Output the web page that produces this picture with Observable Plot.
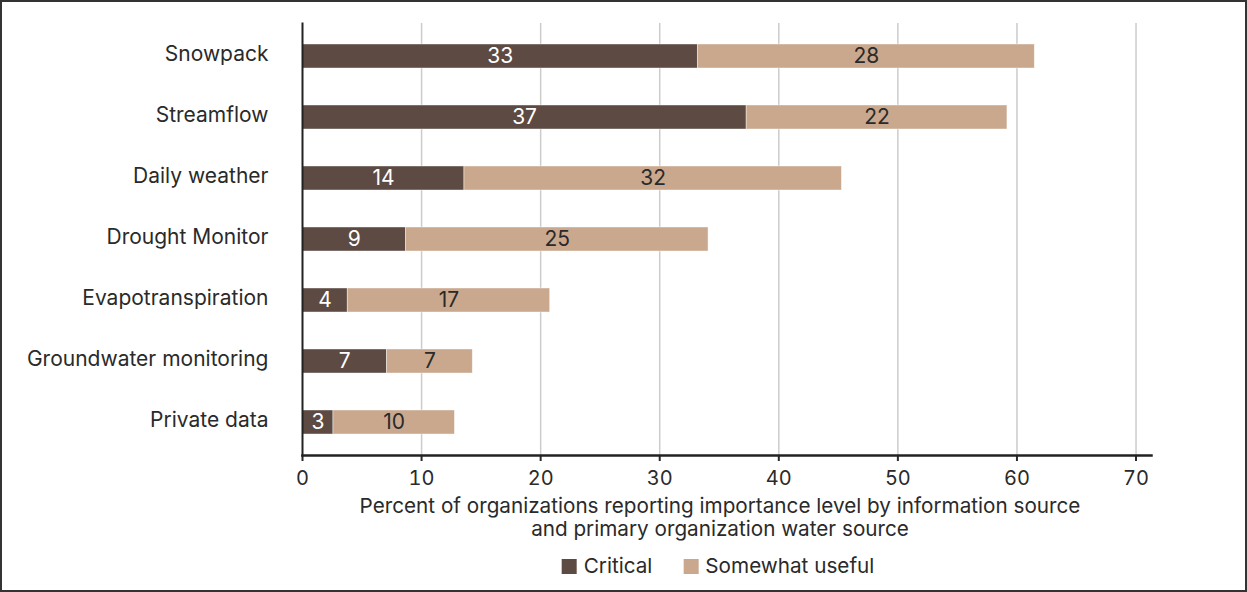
<!DOCTYPE html>
<html>
<head>
<meta charset="utf-8">
<script src="https://cdn.jsdelivr.net/npm/d3@7"></script>
<script src="https://cdn.jsdelivr.net/npm/@observablehq/plot@0.6"></script>
<style>
  html, body { margin: 0; padding: 0; background: #fff; }
  #wrap { position: relative; width: 1247px; height: 592px; overflow: hidden; font-family: Inter, "Noto Sans", sans-serif; color: #2a2a2a; }
  #chart { position: absolute; left: 0; top: 0; }
  #xtitle { position: absolute; top: 494px; left: 720px; transform: translateX(-50%); white-space: nowrap; text-align: center; font-size: 20.7px; line-height: 23px; }
  #legend { position: absolute; top: 555px; left: 718px; transform: translateX(-50%); white-space: nowrap; font-size: 20.7px; line-height: 22px; display: flex; align-items: center; }
  .item { display: inline-flex; align-items: center; }
  .item + .item { margin-left: 31px; }
  .sw { width: 15px; height: 15px; display: inline-block; margin-right: 7px; }
  #border { position: absolute; left: 0; top: 0; width: 1247px; height: 592px; box-sizing: border-box; border: 2px solid #333; pointer-events: none; }
</style>
</head>
<body>
<div id="wrap">
  <div id="chart"></div>
  <div id="xtitle">Percent of organizations reporting importance level by information source<br>and primary organization water source</div>
  <div id="legend"></div>
  <div id="border"></div>
</div>
<script>
const categories = ["Snowpack", "Streamflow", "Daily weather", "Drought Monitor", "Evapotranspiration", "Groundwater monitoring", "Private data"];
const levels = ["Critical", "Somewhat useful"];
const critical = [33.2, 37.3, 13.6, 8.7, 3.8, 7.1, 2.6];
const somewhatUseful = [28.3, 21.9, 31.7, 25.4, 17.0, 7.2, 10.2];
const colors = ["#5c4a43", "#c9a88e"];
const labelColors = ["#ffffff", "#2a2a2a"];
const xTicks = [0, 10, 20, 30, 40, 50, 60, 70];

const data = [];
categories.forEach((c, i) => {
  data.push({category: c, level: levels[0], value: critical[i]});
  data.push({category: c, level: levels[1], value: somewhatUseful[i]});
});

const chart = Plot.plot({
  width: 1247,
  height: 490,
  marginLeft: 302,
  marginRight: 96,
  marginTop: 23,
  marginBottom: 35,
  style: {fontFamily: "Inter, 'Noto Sans', sans-serif", fontSize: "20px", color: "#2a2a2a", background: "transparent"},
  x: {domain: [0, 71.3]},
  y: {domain: categories, paddingInner: 0.6, paddingOuter: 0.3},
  color: {domain: levels, range: colors},
  marks: [
    Plot.gridX(xTicks.filter(t => t > 0), {stroke: "#cccccc", strokeOpacity: 1, strokeWidth: 1.5}),
    Plot.barX(data, {x: "value", y: "category", fill: "level", stroke: "#ffffff", strokeWidth: 0.7, strokeOpacity: 0.6}),
    Plot.text(data, Plot.stackX({x: "value", y: "category", z: "level", text: d => d.level === levels[0] ? String(Math.round(d.value)) : null, fill: labelColors[0], fontSize: 21})),
    Plot.text(data, Plot.stackX({x: "value", y: "category", z: "level", text: d => d.level === levels[1] ? String(Math.round(d.value)) : null, fill: labelColors[1], fontSize: 21})),
    Plot.axisY({tickSize: 0, tickPadding: 34, fontSize: 21, dy: -2, label: null}),
    Plot.axisX({ticks: xTicks, tickSize: 6, tickPadding: 9, fontSize: 20, strokeWidth: 2, label: null}),
    Plot.frame({anchor: "left", stroke: "#222", strokeWidth: 2}),
    Plot.frame({anchor: "bottom", stroke: "#222", strokeWidth: 2.5})
  ]
});
document.getElementById("chart").appendChild(chart);

const legend = document.getElementById("legend");
levels.forEach((l, i) => {
  const item = document.createElement("span");
  item.className = "item";
  const sw = document.createElement("span");
  sw.className = "sw";
  sw.style.background = colors[i];
  const t = document.createElement("span");
  t.textContent = l;
  item.appendChild(sw);
  item.appendChild(t);
  legend.appendChild(item);
});
</script>
</body>
</html>
